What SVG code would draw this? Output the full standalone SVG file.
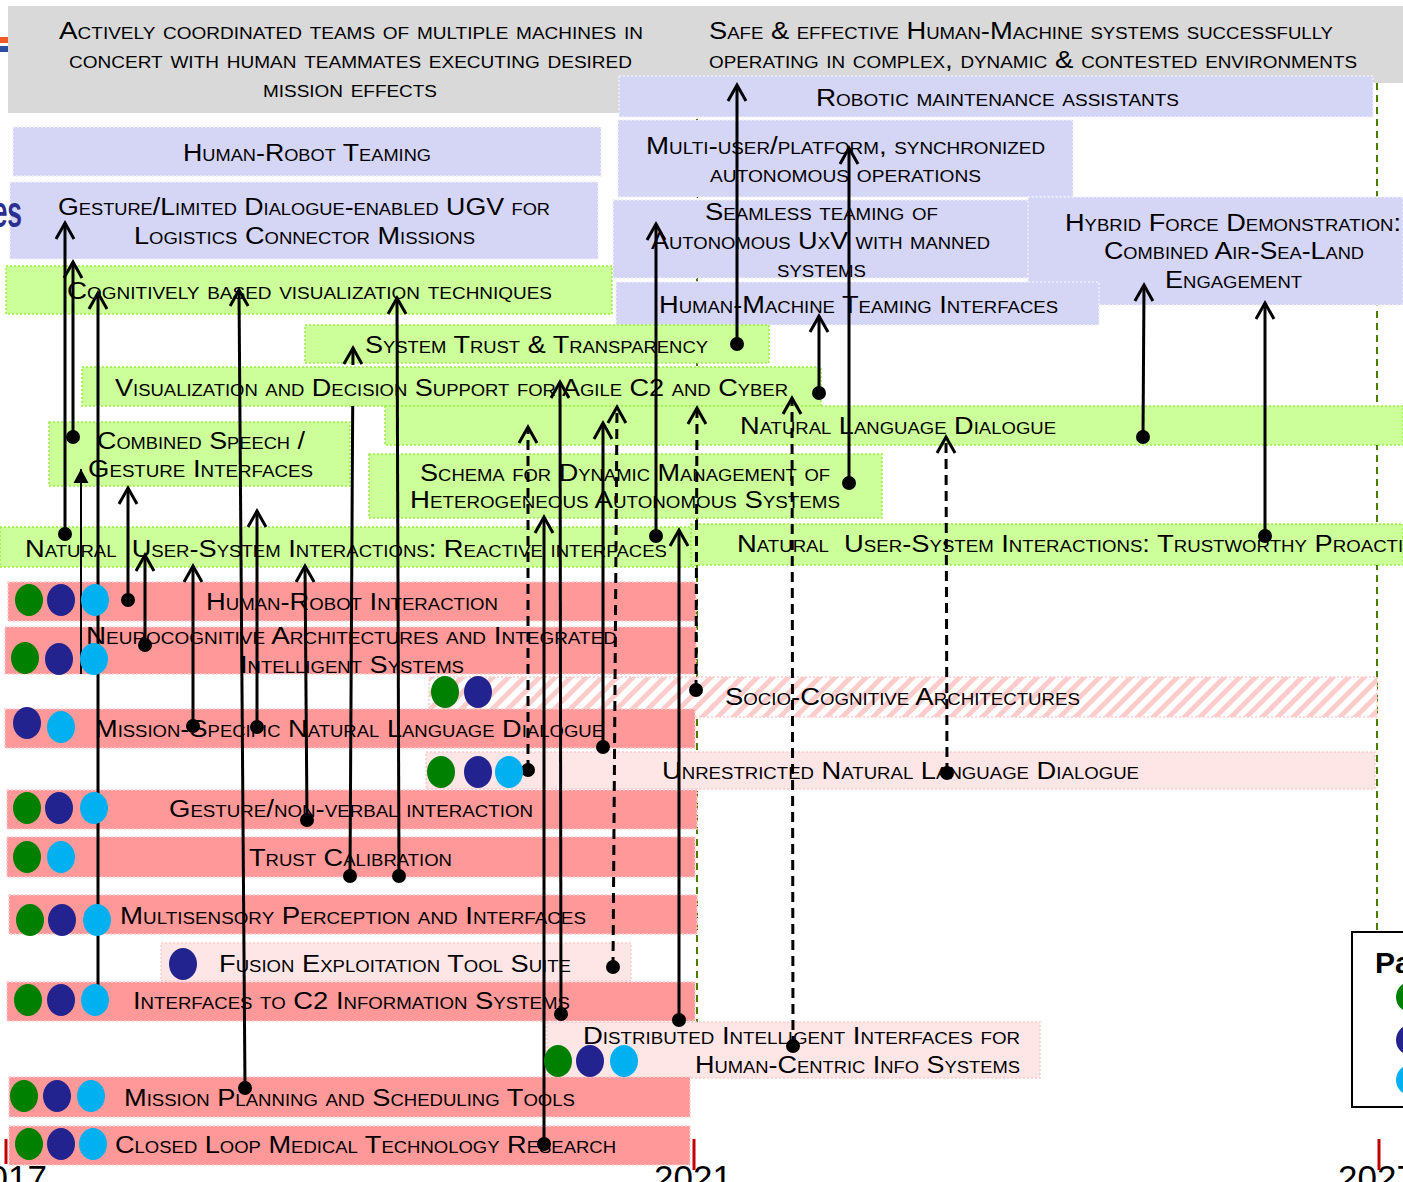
<svg xmlns="http://www.w3.org/2000/svg" width="1403" height="1182" viewBox="0 0 1403 1182">
<style>
.t{font-family:"Liberation Sans",Arial,sans-serif;font-size:23.5px;font-variant:small-caps;fill:#000}
.gray{fill:#d9d9d9}
.lav{fill:#d5d5f5;stroke:#f0f0fb;stroke-width:1.5;stroke-dasharray:2 2}
.grn{fill:#ccff99;stroke:#99ee44;stroke-width:1.5;stroke-dasharray:2 2}
.red{fill:#ff9999;stroke:#ffcccc;stroke-width:1.5;stroke-dasharray:2 2}
.pink{fill:#ffe6e6;stroke:#ffcccc;stroke-width:1.5;stroke-dasharray:2 2}
.hat{fill:url(#hatch);stroke:#ffcccc;stroke-width:1.5;stroke-dasharray:2 2}
.cg{fill:#008000}.cb{fill:#232390}.cc{fill:#00b0f0}
.guide{stroke:#4a7d00;stroke-width:2;stroke-dasharray:7 5;fill:none}
.c{stroke:#000;stroke-width:3;fill:none;marker-end:url(#arr)}
.d{stroke-dasharray:10 6}
.s{marker-start:url(#dot)}
.yr{font-family:"Liberation Sans",Arial,sans-serif;font-size:35px;fill:#000;text-anchor:middle}
.tick{stroke:#c00000;stroke-width:3}
</style>
<defs>
<marker id="arr" markerUnits="userSpaceOnUse" viewBox="-20 -12 24 24" refX="0" refY="0" markerWidth="24" markerHeight="24" orient="auto" overflow="visible"><path d="M-16,-9 L0,0 L-16,9" fill="none" stroke="#000" stroke-width="3"/></marker>
<marker id="tri" markerUnits="userSpaceOnUse" viewBox="-16 -9 18 18" refX="0" refY="0" markerWidth="18" markerHeight="18" orient="auto" overflow="visible"><path d="M-14,-7.5 L0,0 L-14,7.5Z" fill="#000"/></marker>
<marker id="dot" markerUnits="userSpaceOnUse" viewBox="-8 -8 16 16" refX="0" refY="0" markerWidth="16" markerHeight="16" overflow="visible"><circle r="7" fill="#000"/></marker>
<pattern id="hatch" patternUnits="userSpaceOnUse" width="11" height="11" patternTransform="rotate(45)"><rect width="11" height="11" fill="#fff"/><rect width="5" height="11" fill="#ffcccc"/></pattern>
</defs>
<rect width="1403" height="1182" fill="#fff"/>
<g id="flag"><rect x="0" y="37" width="8" height="6" fill="#f05a28"/><rect x="0" y="46" width="8" height="6" fill="#2e4fa0"/></g>

<g id="guides">
<path class="guide" d="M697,83 L697,1022"/>
<path class="guide" d="M1377,83 L1377,932"/>
</g>

<g id="n-goal-left"><rect class="gray" x="8" y="6" width="700" height="107"/>
<text class="t" x="59" y="39" textLength="584" lengthAdjust="spacingAndGlyphs">Actively coordinated teams of multiple machines in</text>
<text class="t" x="69" y="68" textLength="563" lengthAdjust="spacingAndGlyphs">concert with human teammates executing desired</text>
<text class="t" x="263" y="97" textLength="174" lengthAdjust="spacingAndGlyphs">mission effects</text></g>
<g id="n-goal-right"><rect class="gray" x="700" y="6" width="703" height="77"/>
<text class="t" x="709" y="39" textLength="624" lengthAdjust="spacingAndGlyphs">Safe &amp; effective Human-Machine systems successfully</text>
<text class="t" x="709" y="68" textLength="648" lengthAdjust="spacingAndGlyphs">operating in complex, dynamic &amp; contested environments</text></g>

<g id="n-hrt"><rect class="lav" x="13" y="127" width="588" height="49"/>
<text class="t" x="183" y="161" textLength="248" lengthAdjust="spacingAndGlyphs">Human-Robot Teaming</text></g>
<g id="n-ugv"><rect class="lav" x="10" y="182" width="588" height="77"/>
<text class="t" x="58" y="215" textLength="492" lengthAdjust="spacingAndGlyphs">Gesture/Limited Dialogue-enabled UGV for</text>
<text class="t" x="134" y="244" textLength="341" lengthAdjust="spacingAndGlyphs">Logistics Connector Missions</text></g>
<g id="n-rma"><rect class="lav" x="619" y="76" width="754" height="41"/>
<text class="t" x="816" y="106" textLength="363" lengthAdjust="spacingAndGlyphs">Robotic maintenance assistants</text></g>
<g id="n-multi"><rect class="lav" x="618" y="120" width="455" height="77"/>
<text class="t" x="646" y="154" textLength="399" lengthAdjust="spacingAndGlyphs">Multi-user/platform, synchronized</text>
<text class="t" x="710" y="182" textLength="271" lengthAdjust="spacingAndGlyphs">autonomous operations</text></g>
<g id="n-hybrid"><rect class="lav" x="1028" y="197" width="375" height="108"/>
<text class="t" x="1065" y="231" textLength="336" lengthAdjust="spacingAndGlyphs">Hybrid Force Demonstration:</text>
<text class="t" x="1104" y="259" textLength="260" lengthAdjust="spacingAndGlyphs">Combined Air-Sea-Land</text>
<text class="t" x="1165" y="288" textLength="137" lengthAdjust="spacingAndGlyphs">Engagement</text></g>
<g id="n-seamless"><rect class="lav" x="613" y="200" width="415" height="78"/>
<text class="t" x="705" y="220" textLength="233" lengthAdjust="spacingAndGlyphs">Seamless teaming of</text>
<text class="t" x="651" y="249" textLength="339" lengthAdjust="spacingAndGlyphs">Autonomous UxV with manned</text>
<text class="t" x="777" y="277" textLength="89" lengthAdjust="spacingAndGlyphs">systems</text></g>
<g id="n-hmti"><rect class="lav" x="616" y="282" width="483" height="43"/>
<text class="t" x="659" y="313" textLength="399" lengthAdjust="spacingAndGlyphs">Human-Machine Teaming Interfaces</text></g>

<g id="n-cog"><rect class="grn" x="6" y="266" width="606" height="48"/>
<text class="t" x="67" y="299" textLength="485" lengthAdjust="spacingAndGlyphs">Cognitively based visualization techniques</text></g>
<g id="n-trust"><rect class="grn" x="305" y="325" width="464" height="38"/>
<text class="t" x="365" y="353" textLength="343" lengthAdjust="spacingAndGlyphs">System Trust &amp; Transparency</text></g>
<g id="n-vis"><rect class="grn" x="82" y="367" width="739" height="39"/>
<text class="t" x="115" y="396" textLength="673" lengthAdjust="spacingAndGlyphs">Visualization and Decision Support for Agile C2 and Cyber</text></g>
<g id="n-nld"><rect class="grn" x="385" y="406" width="1018" height="39"/>
<text class="t" x="740" y="434" textLength="316" lengthAdjust="spacingAndGlyphs">Natural Language Dialogue</text></g>
<g id="n-csg"><rect class="grn" x="49" y="422" width="301" height="64"/>
<text class="t" x="97" y="449" textLength="208" lengthAdjust="spacingAndGlyphs">Combined Speech /</text>
<text class="t" x="88" y="477" textLength="225" lengthAdjust="spacingAndGlyphs">Gesture Interfaces</text></g>
<g id="n-schema"><rect class="grn" x="369" y="454" width="513" height="64"/>
<text class="t" x="420" y="481" textLength="410" lengthAdjust="spacingAndGlyphs">Schema for Dynamic Management of</text>
<text class="t" x="410" y="508" textLength="430" lengthAdjust="spacingAndGlyphs">Heterogeneous Autonomous Systems</text></g>
<g id="n-nusi-react"><rect class="grn" x="0" y="527" width="693" height="40"/>
<text class="t" x="25" y="557" textLength="642" lengthAdjust="spacingAndGlyphs" xml:space="preserve">Natural  User-System Interactions: Reactive interfaces</text></g>
<g id="n-nusi-trust"><rect class="grn" x="691" y="524" width="712" height="41"/>
<text class="t" x="737" y="552" textLength="691" lengthAdjust="spacingAndGlyphs" xml:space="preserve">Natural  User-System Interactions: Trustworthy Proactive</text></g>

<g id="n-hri"><rect class="red" x="8" y="582" width="688" height="39"/>
<text class="t" x="206" y="610" textLength="292" lengthAdjust="spacingAndGlyphs">Human-Robot Interaction</text></g>
<g id="n-neuro"><rect class="red" x="5" y="627" width="691" height="47"/>
<text class="t" x="86" y="644" textLength="531" lengthAdjust="spacingAndGlyphs">Neurocognitive Architectures and Integrated</text>
<text class="t" x="240" y="673" textLength="224" lengthAdjust="spacingAndGlyphs">Intelligent Systems</text></g>
<g id="n-socio"><rect class="hat" x="429" y="677" width="948" height="40"/>
<text class="t" x="725" y="705" textLength="355" lengthAdjust="spacingAndGlyphs">Socio-Cognitive Architectures</text></g>
<g id="n-msnld"><rect class="red" x="5" y="709" width="690" height="39"/>
<text class="t" x="95" y="737" textLength="509" lengthAdjust="spacingAndGlyphs">Mission-Specific Natural Language Dialogue</text></g>
<g id="n-unr"><rect class="pink" x="426" y="752" width="949" height="37"/>
<text class="t" x="662" y="779" textLength="477" lengthAdjust="spacingAndGlyphs">Unrestricted Natural Language Dialogue</text></g>
<g id="n-gnv"><rect class="red" x="7" y="790" width="690" height="39"/>
<text class="t" x="169" y="817" textLength="364" lengthAdjust="spacingAndGlyphs">Gesture/non-verbal interaction</text></g>
<g id="n-tc"><rect class="red" x="7" y="837" width="688" height="40"/>
<text class="t" x="249" y="866" textLength="203" lengthAdjust="spacingAndGlyphs">Trust Calibration</text></g>
<g id="n-msp"><rect class="red" x="9" y="895" width="688" height="39"/>
<text class="t" x="120" y="924" textLength="466" lengthAdjust="spacingAndGlyphs">Multisensory Perception and Interfaces</text></g>
<g id="n-fusion"><rect class="pink" x="161" y="943" width="470" height="38"/>
<text class="t" x="219" y="972" textLength="352" lengthAdjust="spacingAndGlyphs">Fusion Exploitation Tool Suite</text></g>
<g id="n-ic2"><rect class="red" x="7" y="982" width="688" height="39"/>
<text class="t" x="133" y="1009" textLength="437" lengthAdjust="spacingAndGlyphs">Interfaces to C2 Information Systems</text></g>
<g id="n-dist"><rect class="pink" x="547" y="1022" width="493" height="56"/>
<text class="t" x="583" y="1044" textLength="437" lengthAdjust="spacingAndGlyphs">Distributed Intelligent Interfaces for</text>
<text class="t" x="695" y="1073" textLength="325" lengthAdjust="spacingAndGlyphs">Human-Centric Info Systems</text></g>
<g id="n-mpst"><rect class="red" x="9" y="1077" width="681" height="40"/>
<text class="t" x="124" y="1106" textLength="451" lengthAdjust="spacingAndGlyphs">Mission Planning and Scheduling Tools</text></g>
<g id="n-clm"><rect class="red" x="9" y="1126" width="681" height="39"/>
<text class="t" x="115" y="1153" textLength="501" lengthAdjust="spacingAndGlyphs">Closed Loop Medical Technology Research</text></g>

<g id="connectors">
<path class="c s" d="M65,534 L65,223"/>
<path class="c s" d="M73,437 L73,262"/>
<path d="M81,674 L81,469" stroke="#000" stroke-width="2" fill="none" marker-end="url(#tri)"/>
<path class="c" d="M98,1000 L98,293"/>
<path class="c s" d="M128,600 L128,488"/>
<path class="c s" d="M145,645 L145,555"/>
<path class="c s" d="M193,726 L193,566"/>
<path class="c s" d="M245,1088 L239,290"/>
<path class="c s" d="M257,727 L257,511"/>
<path class="c s" d="M307,820 L305,566"/>
<path class="c s" d="M350,876 L352.7,406 M352.9,365 L353,348"/>
<path class="c s" d="M399,876 L397,298"/>
<path class="c s d" d="M528,770 L528,427"/>
<path class="c s" d="M544,1144 L544,517"/>
<path class="c s" d="M561,1014 L560,382"/>
<path class="c s" d="M603,747 L603,423"/>
<path class="c s d" d="M613,967 L617,407"/>
<path class="c s" d="M656,536 L656,224"/>
<path class="c s" d="M679,1020 L679,530"/>
<path class="c s d" d="M696,690 L697,408"/>
<path class="c s" d="M737,344 L737,85"/>
<path class="c s d" d="M793,1046 L792,398"/>
<path class="c s" d="M819,393 L819,316"/>
<path class="c s" d="M849,483 L849,148"/>
<path class="c s d" d="M947,773 L946,437"/>
<path class="c s" d="M1143,437 L1144,285"/>
<path class="c s" d="M1265,536 L1265,303"/>
</g>

<g id="badges">
<ellipse class="cg" cx="29" cy="600" rx="14" ry="16"/><ellipse class="cb" cx="61" cy="600" rx="14" ry="16"/><ellipse class="cc" cx="95" cy="600" rx="14" ry="16"/>
<ellipse class="cg" cx="25" cy="658" rx="14" ry="16"/><ellipse class="cb" cx="59" cy="659" rx="14" ry="16"/><ellipse class="cc" cx="94" cy="659" rx="14" ry="16"/>
<ellipse class="cg" cx="445" cy="692" rx="14" ry="16"/><ellipse class="cb" cx="478" cy="692" rx="14" ry="16"/>
<ellipse class="cb" cx="27" cy="723" rx="14" ry="16"/><ellipse class="cc" cx="61" cy="727" rx="14" ry="16"/>
<ellipse class="cg" cx="441" cy="772" rx="14" ry="16"/><ellipse class="cb" cx="478" cy="772" rx="14" ry="16"/><ellipse class="cc" cx="509" cy="772" rx="14" ry="16"/>
<ellipse class="cg" cx="27" cy="808" rx="14" ry="16"/><ellipse class="cb" cx="59" cy="808" rx="14" ry="16"/><ellipse class="cc" cx="94" cy="808" rx="14" ry="16"/>
<ellipse class="cg" cx="27" cy="857" rx="14" ry="16"/><ellipse class="cc" cx="61" cy="857" rx="14" ry="16"/>
<ellipse class="cg" cx="30" cy="920" rx="14" ry="16"/><ellipse class="cb" cx="62" cy="920" rx="14" ry="16"/><ellipse class="cc" cx="97" cy="920" rx="14" ry="16"/>
<ellipse class="cb" cx="183" cy="964" rx="14" ry="16"/>
<ellipse class="cg" cx="28" cy="1000" rx="14" ry="16"/><ellipse class="cb" cx="61" cy="1000" rx="14" ry="16"/><ellipse class="cc" cx="95" cy="1000" rx="14" ry="16"/>
<ellipse class="cg" cx="558" cy="1061" rx="14" ry="16"/><ellipse class="cb" cx="590" cy="1061" rx="14" ry="16"/><ellipse class="cc" cx="624" cy="1061" rx="14" ry="16"/>
<ellipse class="cg" cx="24" cy="1096" rx="14" ry="16"/><ellipse class="cb" cx="57" cy="1096" rx="14" ry="16"/><ellipse class="cc" cx="91" cy="1096" rx="14" ry="16"/>
<ellipse class="cg" cx="29" cy="1144" rx="14" ry="16"/><ellipse class="cb" cx="61" cy="1144" rx="14" ry="16"/><ellipse class="cc" cx="93" cy="1144" rx="14" ry="16"/>
</g>

<text transform="translate(22,227) scale(0.6,1)" text-anchor="end" style="font-family:'Liberation Sans',Arial,sans-serif;font-size:44px;font-weight:bold;fill:#2b2f8f">es</text>

<g id="legend">
<rect x="1352" y="932" width="70" height="175" fill="#fff" stroke="#000" stroke-width="2"/>
<text x="1375" y="973" style="font-family:'Liberation Sans',Arial,sans-serif;font-size:30px;font-weight:bold;fill:#000">Pa</text>
<ellipse class="cg" cx="1410" cy="997" rx="14" ry="15"/>
<ellipse class="cb" cx="1410" cy="1040" rx="14" ry="15"/>
<ellipse class="cc" cx="1410" cy="1080" rx="14" ry="15"/>
</g>

<g id="timeline">
<text class="yr" x="8" y="1190">2017</text>
<text class="yr" x="693" y="1190">2021</text>
<text class="yr" x="1377" y="1190">2027</text>
<line class="tick" x1="6" y1="1139" x2="6" y2="1164"/>
<line class="tick" x1="694" y1="1139" x2="694" y2="1170"/>
<line class="tick" x1="1379" y1="1139" x2="1379" y2="1170"/>
</g>
</svg>
